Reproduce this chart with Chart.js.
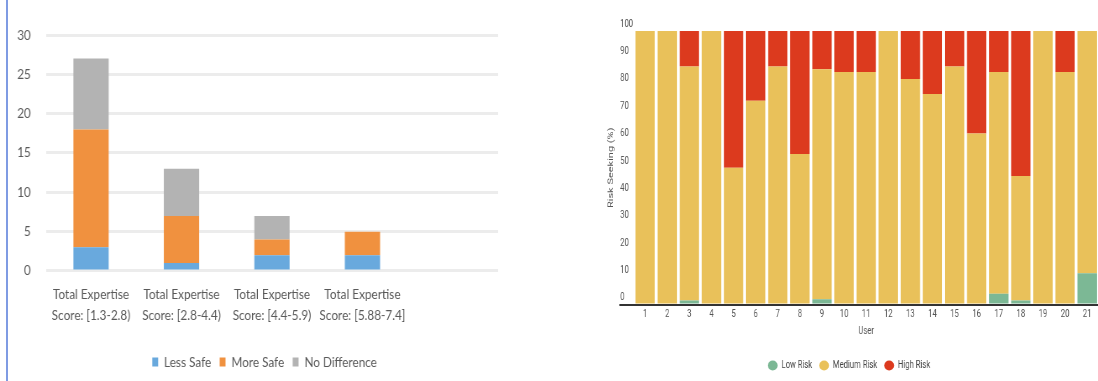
<!DOCTYPE html>
<html>
<head>
<meta charset="utf-8">
<script src="https://cdn.jsdelivr.net/npm/chart.js@4.4.1/dist/chart.umd.min.js"></script>
<style>
  html, body { margin: 0; padding: 0; background: #fff; width: 1098px; height: 381px; overflow: hidden; position: relative; }
  #rule { position: absolute; left: 6px; top: 0; width: 2px; height: 381px; background: #7f9be3; }
  #left { position: absolute; left: 0; top: 0; width: 655px; height: 381px; transform: scaleX(0.84); transform-origin: 0 0; }
  #right { position: absolute; left: 590px; top: 0; width: 726px; height: 381px; transform: scaleX(0.7); transform-origin: 0 0; }
  canvas { display: block; }
</style>
</head>
<body>
<div id="left"><canvas id="expertiseChart" width="655" height="381"></canvas></div>
<div id="right"><canvas id="riskChart" width="726" height="381"></canvas></div>
<div id="rule"></div>
<script>
// Expertise groups vs. perceived safety (counts of participants)
const expertiseGroups = [
  ['Total Expertise', 'Score: [1.3-2.8)'],
  ['Total Expertise', 'Score: [2.8-4.4)'],
  ['Total Expertise', 'Score: [4.4-5.9)'],
  ['Total Expertise', 'Score: [5.88-7.4]']
];
const lessSafe     = [3, 1, 2, 2];
const moreSafe     = [15, 6, 2, 3];
const noDifference = [9, 6, 3, 0];
const countTicks   = [0, 5, 10, 15, 20, 25, 30];

// Risk-seeking share per user (%)
const users      = ['1','2','3','4','5','6','7','8','9','10','11','12','13','14','15','16','17','18','19','20','21'];
const lowRisk    = [0, 0, 1.5, 0, 0, 0, 0, 0, 2, 0, 0, 0, 0, 0, 0, 0, 4, 1.5, 0, 0, 11.5];
const mediumRisk = [100, 100, 85.5, 100, 50, 74.5, 87, 55, 84, 85, 85, 100, 82.5, 77, 87, 62.5, 81, 45.5, 100, 85, 88.5];
const highRisk   = [0, 0, 13, 0, 50, 25.5, 13, 45, 14, 15, 15, 0, 17.5, 23, 13, 37.5, 15, 53, 0, 15, 0];
const percentTicks = [0, 10, 20, 30, 40, 50, 60, 70, 80, 90, 100];

const LATO = 'Lato, "Open Sans", sans-serif';
const ROBOTO = 'Roboto, "Noto Sans", sans-serif';

new Chart(document.getElementById('expertiseChart'), {
  type: 'bar',
  data: {
    // trailing blank slot keeps the empty band at the right of the plot
    labels: [...expertiseGroups, ''],
    datasets: [
      { label: 'Less Safe',     data: lessSafe,     backgroundColor: '#69a9dd' },
      { label: 'More Safe',     data: moreSafe,     backgroundColor: '#f0913f' },
      { label: 'No Difference', data: noDifference, backgroundColor: '#b3b3b3' }
    ]
  },
  options: {
    responsive: false,
    animation: false,
    layout: { padding: { left: 37, right: 62, top: 35, bottom: 2 } },
    datasets: { bar: { barPercentage: 0.39, categoryPercentage: 1 } },
    plugins: {
      tooltip: { enabled: false },
      legend: {
        position: 'bottom',
        labels: { boxWidth: 7, boxHeight: 9, color: '#595959', font: { family: LATO, size: 14 }, padding: 10 }
      }
    },
    scales: {
      x: {
        stacked: true,
        grid: { display: false, drawTicks: false },
        border: { display: false },
        ticks: { color: '#595959', font: { family: LATO, size: 14, lineHeight: 1.43 }, padding: 14, maxRotation: 0, autoSkip: false },
        afterFit: s => { s.height += 6; }
      },
      y: {
        stacked: true,
        min: countTicks[0],
        max: countTicks[countTicks.length - 1],
        ticks: {
          stepSize: countTicks[1] - countTicks[0],
          mirror: true, crossAlign: 'far', padding: -34,
          color: '#595959', font: { family: LATO, size: 14 }
        },
        grid: { color: '#ececec', lineWidth: 3, drawTicks: false },
        border: { display: false },
        afterFit: s => { s.width = 17.5; }
      }
    }
  }
});

new Chart(document.getElementById('riskChart'), {
  type: 'bar',
  data: {
    labels: users,
    datasets: [
      { label: 'Low Risk',    data: lowRisk,    backgroundColor: '#7cb895' },
      { label: 'Medium Risk', data: mediumRisk, backgroundColor: '#e9c15a' },
      { label: 'High Risk',   data: highRisk,   backgroundColor: '#dc3a1e' }
    ]
  },
  options: {
    responsive: false,
    animation: false,
    layout: { padding: { left: 14, right: 0, top: 31, bottom: 0 } },
    datasets: { bar: { barPercentage: 0.875, categoryPercentage: 1 } },
    plugins: {
      tooltip: { enabled: false },
      legend: {
        position: 'bottom',
        labels: {
          usePointStyle: true, pointStyle: 'circle', boxHeight: 7, pointStyleWidth: 14,
          color: '#444', font: { family: ROBOTO, size: 11 }, padding: 10
        }
      }
    },
    scales: {
      x: {
        stacked: true,
        grid: { display: false, drawTicks: false },
        border: { display: false },
        ticks: { color: '#555', font: { family: ROBOTO, size: 11 }, padding: 3, autoSkip: false, maxRotation: 0 },
        title: { display: true, text: 'User', color: '#555', font: { family: ROBOTO, size: 11 }, padding: { top: 1, bottom: 12 } }
      },
      y: {
        stacked: true,
        min: percentTicks[0],
        max: percentTicks[percentTicks.length - 1],
        ticks: {
          stepSize: percentTicks[1] - percentTicks[0],
          mirror: true, padding: -20, labelOffset: -7,
          color: '#555', font: { family: ROBOTO, size: 11 }
        },
        grid: {
          z: 1,
          color: c => (c.tick && c.tick.value === 0 ? '#333' : 'rgba(0,0,0,0)'),
          lineWidth: 2,
          tickLength: 21
        },
        border: { display: false },
        title: { display: true, text: 'Risk Seeking (%)', color: '#555', font: { family: ROBOTO, size: 11 }, padding: { top: 9.4, bottom: 45.4 } }
      }
    }
  }
});
</script>
</body>
</html>
